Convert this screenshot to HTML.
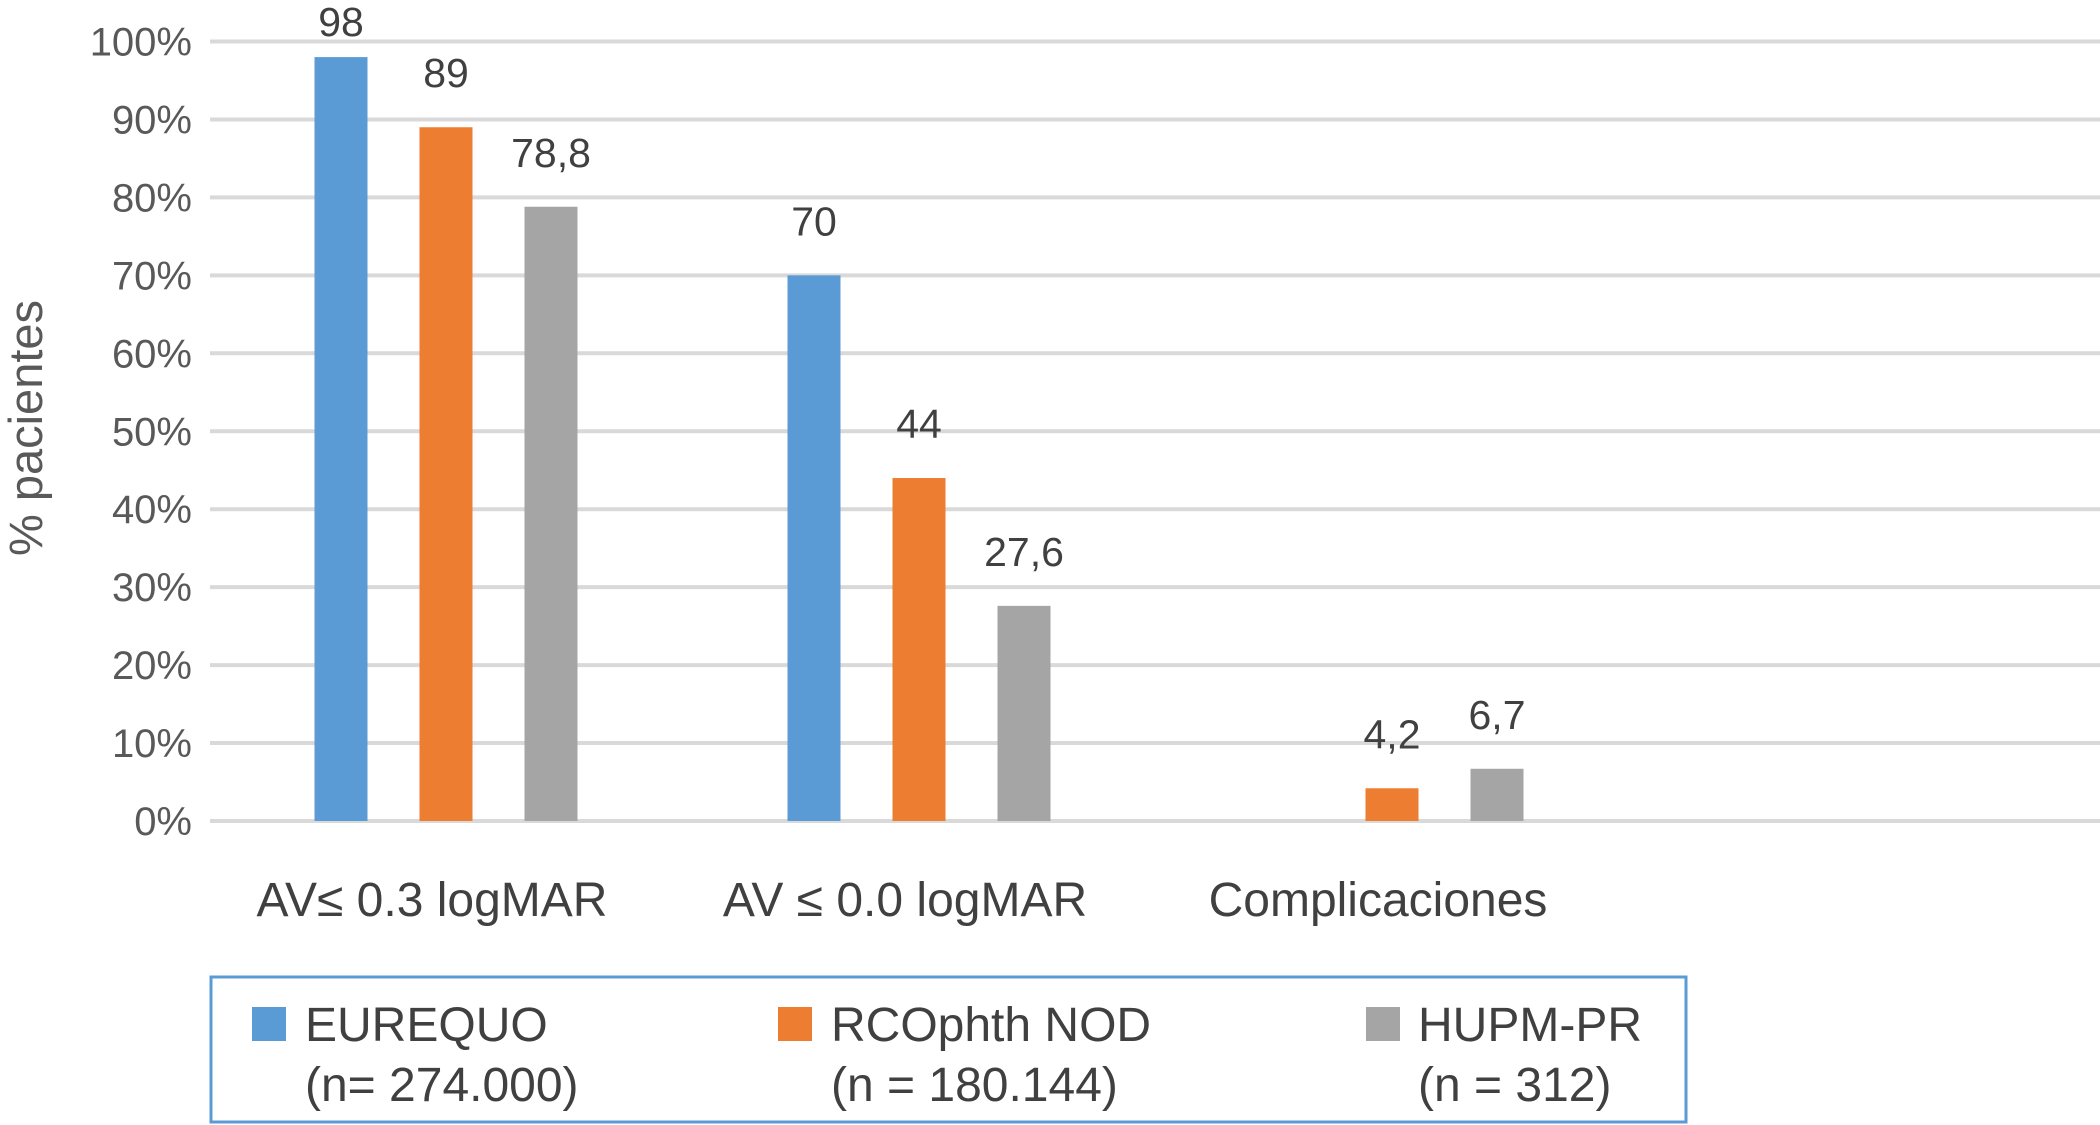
<!DOCTYPE html>
<html><head><meta charset="utf-8"><style>
html,body{margin:0;padding:0;background:#fff;}
svg{display:block;font-family:"Liberation Sans",Arial,sans-serif;}
</style></head><body>
<svg id="chart" width="2100" height="1125" viewBox="0 0 2100 1125">
<g id="grid"></g>
<g id="yticks"></g>
<g id="bars"></g>
<g id="xlabels"></g>
<text transform="translate(42,428) rotate(-90)" text-anchor="middle" font-size="47" fill="#595959">% pacientes</text>
<g>
<rect x="211" y="977" width="1475" height="145" fill="#fff" stroke="#5b9bd5" stroke-width="3"/>
<g>
<rect x="252" y="1007" width="34" height="34" fill="#5b9bd5"/>
<text x="305" y="1041" font-size="48" fill="#404040">EUREQUO</text>
<text x="305" y="1101" font-size="48" fill="#404040">(n= 274.000)</text></g>
<g>
<rect x="778" y="1007" width="34" height="34" fill="#ed7d31"/>
<text x="831" y="1041" font-size="48" fill="#404040">RCOphth NOD</text>
<text x="831" y="1101" font-size="48" fill="#404040">(n = 180.144)</text></g>
<g>
<rect x="1366" y="1007" width="34" height="34" fill="#a5a5a5"/>
<text x="1418" y="1041" font-size="48" fill="#404040">HUPM-PR</text>
<text x="1418" y="1101" font-size="48" fill="#404040">(n = 312)</text></g>
</g>
</svg>
<script>
const categories = ["AV\u2264 0.3 logMAR", "AV \u2264 0.0 logMAR", "Complicaciones"];
const seriesNames = ["EUREQUO", "RCOphth NOD", "HUPM-PR"];
const eurequo = [98, 70, null];
const rcophth = [89, 44, 4.2];
const hupm = [78.8, 27.6, 6.7];
const valueLabels = [["98","70",""],["89","44","4,2"],["78,8","27,6","6,7"]];
const yTicks = [0,10,20,30,40,50,60,70,80,90,100];

const NS="http://www.w3.org/2000/svg";
const colors=["#5b9bd5","#ed7d31","#a5a5a5"];
const y0=821, y100=41.5, xL=210, xR=2100;
const yScale=v=>y0-(y0-y100)*v/100;
const xCenter=i=>446+473*i;
const barW=53, off=105;
function mk(tag,attrs,parent){const e=document.createElementNS(NS,tag);for(const k in attrs)e.setAttribute(k,attrs[k]);parent.appendChild(e);return e;}
const grid=document.getElementById('grid'), yt=document.getElementById('yticks'), bars=document.getElementById('bars'), xl=document.getElementById('xlabels');
yTicks.forEach(t=>{
  const l=mk('line',{x1:xL,x2:xR,y1:yScale(t),y2:yScale(t),stroke:'#d9d9d9','stroke-width':4},grid);
  
  
  const tx=mk('text',{x:192,y:yScale(t)+14,'text-anchor':'end','font-size':40,fill:'#595959'},yt);
  tx.textContent=t+'%';
  
  
});
const series=[eurequo,rcophth,hupm];
series.forEach((s,si)=>{
  s.forEach((v,ci)=>{
    if(v===null||v===undefined)return;
    const cx=xCenter(ci)+(si-1)*off;
    const r=mk('rect',{x:cx-barW/2,y:yScale(v),width:barW,height:y0-yScale(v),fill:colors[si]},bars);
    
    
    const t=mk('text',{x:cx,y:Math.max(36,yScale(v)-40),'text-anchor':'middle','font-size':41,fill:'#404040'},bars);
    t.textContent=valueLabels[si][ci];
    
    
  });
});
categories.forEach((c,i)=>{
  const t=mk('text',{x:xCenter(i)-14,y:916,'text-anchor':'middle','font-size':48,fill:'#404040'},xl);
  t.textContent=c;
  
  
});
</script>
</body></html>
